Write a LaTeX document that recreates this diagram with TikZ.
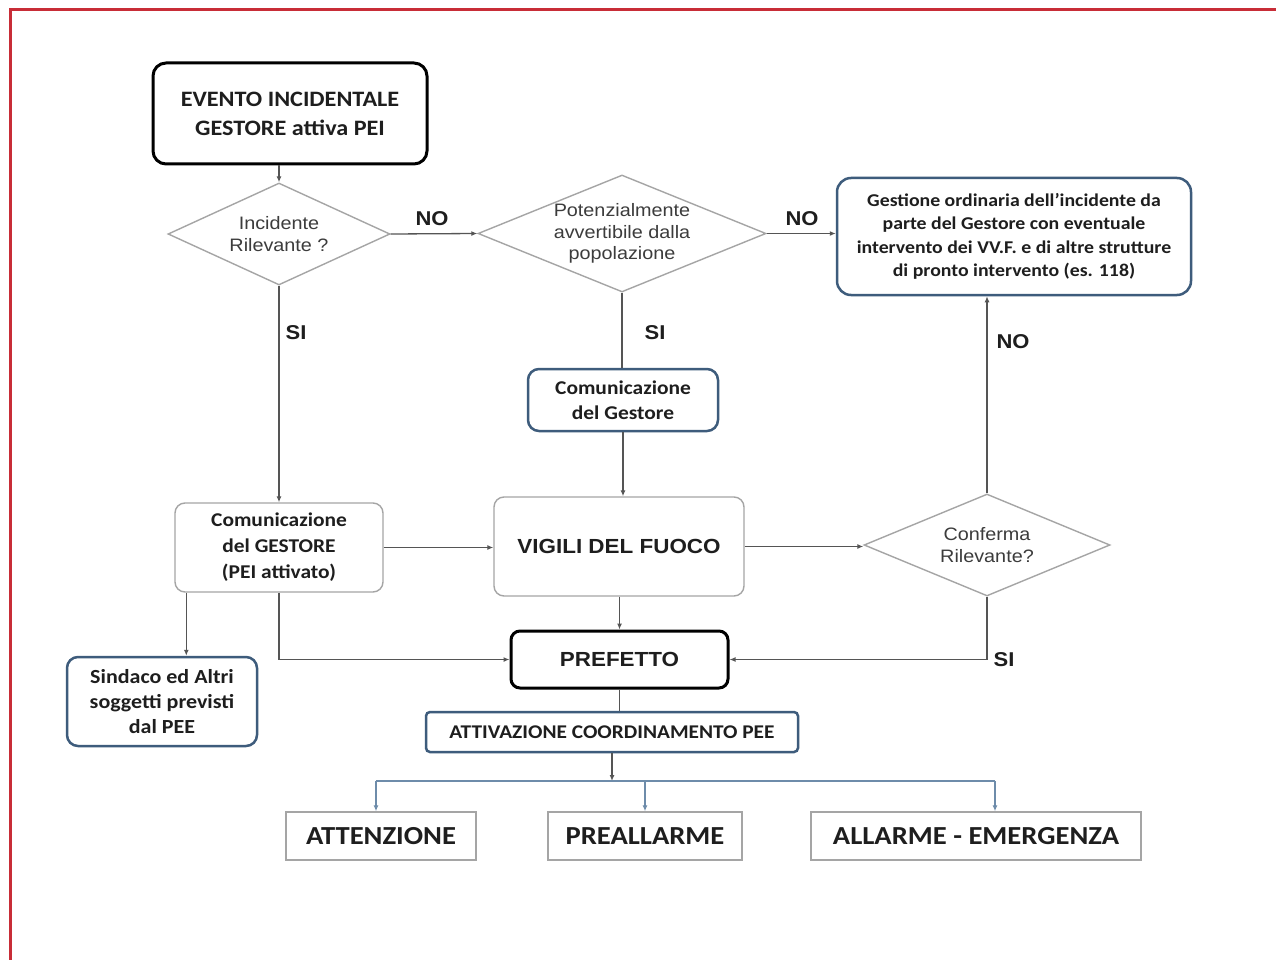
\documentclass[tikz,border=0pt]{standalone}
\usepackage{fontspec}
\setmainfont[FakeStretch=1.1]{Carlito}
\newfontfamily\arial[FakeStretch=1.1]{Liberation Sans}
\usetikzlibrary{shapes.geometric,arrows.meta,calc}
\definecolor{redbd}{RGB}{200,45,55}
\definecolor{bluebd}{RGB}{62,92,124}
\definecolor{lnk}{RGB}{85,85,85}
\definecolor{graybd}{RGB}{165,165,165}
\definecolor{txt}{RGB}{30,30,30}
\definecolor{dtxt}{RGB}{60,60,60}
\definecolor{brline}{RGB}{110,140,170}
\definecolor{brarr}{RGB}{70,120,175}
\tikzset{
  thickbox/.style={draw=black, line width=3pt, rounded corners=13pt, fill=white, text=txt, align=center, inner sep=0pt},
  bluebox/.style={draw=bluebd, line width=2.5pt, rounded corners=11pt, fill=white, text=txt, align=center, inner sep=0pt},
  graybox/.style={draw=graybd, line width=1.4pt, rounded corners=10pt, fill=white, text=txt, align=center, inner sep=0pt},
  levelbox/.style={draw=graybd, line width=1.4pt, fill=white, text=txt, inner sep=0pt, font=\fontsize{26}{30}\selectfont\bfseries},
  dia/.style={diamond, draw=graybd, line width=1.4pt, fill=white, inner sep=0pt},
  dtext/.style={text=dtxt, align=center, font=\arial\fontsize{18}{21.5}\selectfont},
  lab/.style={text=txt, font=\arial\bfseries\fontsize{20}{22}\selectfont, inner sep=0pt},
  arr/.style={draw=lnk, line width=1.3pt, -{Latex[length=6pt,width=5pt]}},
  ln/.style={draw=lnk, line width=1.3pt},
  brl/.style={draw=brline, line width=1.3pt},
  bra/.style={draw=brline, line width=1.3pt, -{Latex[length=6pt,width=5pt,fill=brarr]}},
}
\begin{document}
\begin{tikzpicture}[x=1pt,y=-1pt]
\useasboundingbox (0,0) rectangle (1276,960);
\fill[white] (0,0) rectangle (1276,960);
\draw[redbd, line width=3pt] (10,960) -- (10,10) -- (1276,10);

% nodes
\node[thickbox, minimum width=274pt, minimum height=101pt, font=\fontsize{22}{29}\selectfont\bfseries] (ev) at (290,113.5) {EVENTO INCIDENTALE\\GESTORE attiva PEI};
\node[dia, minimum width=222pt, minimum height=102pt, label={[dtext]center:{Incidente\\Rilevante ?}}] (d1) at (279,234) {};
\node[dia, minimum width=288pt, minimum height=117pt, label={[dtext]center:{Potenzialmente\\avvertibile dalla\\popolazione}}] (d2) at (622,233.5) {};
\node[bluebox, rounded corners=14pt, minimum width=354pt, minimum height=117pt, font=\fontsize{18}{23.3}\selectfont\bfseries] (gest) at (1014,236.5) {Gestione ordinaria dell'incidente da\\parte del Gestore con eventuale\\intervento dei VV.F. e di altre strutture\\di pronto intervento (es. 118)};
\node[bluebox, minimum width=190pt, minimum height=62pt, font=\fontsize{19.5}{25}\selectfont\bfseries] (cdg) at (623,400) {Comunicazione\\del Gestore};
\node[graybox, minimum width=208pt, minimum height=89pt, font=\fontsize{19.5}{26}\selectfont\bfseries] (cG) at (279,547.5) {Comunicazione\\del GESTORE\\(PEI attivato)};
\node[graybox, minimum width=250pt, minimum height=99pt, font=\arial\bfseries\fontsize{20.4}{24}\selectfont] (vf) at (619,546.5) {VIGILI DEL FUOCO};
\node[dia, minimum width=246pt, minimum height=102pt, label={[dtext]center:{Conferma\\Rilevante?}}] (d3) at (987,545) {};
\node[thickbox, rounded corners=9pt, minimum width=217pt, minimum height=57pt, font=\arial\bfseries\fontsize{20.4}{24}\selectfont] (pref) at (619.5,659.5) {PREFETTO};
\node[bluebox, minimum width=190pt, minimum height=89pt, font=\fontsize{20}{25}\selectfont\bfseries] (sind) at (162,701.5) {Sindaco ed Altri\\soggetti previsti\\dal PEE};
\node[bluebox, rounded corners=4pt, minimum width=372pt, minimum height=40pt, font=\fontsize{19.4}{22}\selectfont\bfseries] (att) at (612,732) {ATTIVAZIONE COORDINAMENTO PEE};
\node[levelbox, minimum width=190pt, minimum height=48pt] (a1) at (381,836) {ATTENZIONE};
\node[levelbox, minimum width=194pt, minimum height=48pt] (a2) at (645,836) {PREALLARME};
\node[levelbox, minimum width=330pt, minimum height=48pt] (a3) at (976,836) {ALLARME - EMERGENZA};

% labels
\node[lab] (no1) at (432,219) {NO};
\node[lab] (no2) at (802,219) {NO};
\node[lab] (si1) at (296,333) {SI};
\node[lab] (si2) at (655,333) {SI};
\node[lab] (no3) at (1013,342) {NO};
\node[lab] (si3) at (1004,660) {SI};

% connectors
\draw[arr] (ev.south -| d1.north) -- (d1.north);
\draw[arr] (d1.east) -- (d2.west);
\draw[arr] (d2.east) -- (d2.east -| gest.west);
\draw[ln] (d2.south) -- (d2.south |- cdg.north);
\draw[arr] (cdg.south) -- (cdg.south |- vf.north);
\draw[arr] (d1.south) -- (cG.north);
\draw[arr] (cG.east) -- (cG.east -| vf.west);
\draw[arr] (vf.east) -- (vf.east -| d3.west);
\draw[arr] (d3.north) -- (d3.north |- gest.south);
\draw[arr] (d3.south) |- (pref.east);
\draw[arr] (vf.south -| pref.north) -- (pref.north);
\draw[arr] (cG.south) |- (pref.west);
\draw[arr] ([xshift=12pt]cG.south west) -- ([xshift=12pt]cG.south west |- sind.north);
\draw[ln] (pref.south) -- (pref.south |- att.north);

\coordinate (br) at (612,781);
\coordinate (bL) at (376,781);
\coordinate (bR) at (995,781);
\draw[arr] (att.south -| br) -- (br);
\draw[brl] (bL) -- (bR);
\draw[bra] (bL) -- (bL |- a1.north);
\draw[bra] (a2.north |- br) -- (a2.north);
\draw[bra] (bR) -- (bR |- a3.north);
\end{tikzpicture}
\end{document}
